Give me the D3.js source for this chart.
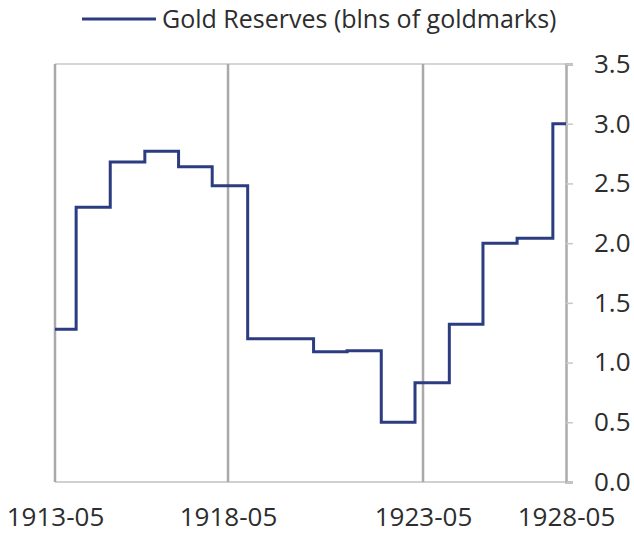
<!DOCTYPE html>
<html>
<head>
<meta charset="utf-8">
<script src="https://cdn.jsdelivr.net/npm/d3@7"></script>
<style>
  html, body { margin: 0; padding: 0; background: #fff; }
  svg { display: block; }
  text { font-family: "Open Sans", "Noto Sans", sans-serif; fill: #2d2d2d; }
</style>
</head>
<body>
<svg id="chart" width="634" height="536"></svg>
<script>
// ---- data ----
const seriesName = "Gold Reserves (blns of goldmarks)";
// dates at which the level changes (step-after), last entry = end of series
const changeDates = ["1913-05-01","1913-12-10","1914-12-05","1915-12-05","1916-11-25","1917-11-15",
                     "1918-11-01","1920-07-10","1921-05-20","1922-04-05","1923-02-15",
                     "1924-04-01","1925-06-05","1926-08-15","1927-11-15","1928-05-01"];
const goldValues  = [1.28, 2.30, 2.68, 2.77, 2.64, 2.48,
                     1.20, 1.09, 1.10, 0.50, 0.83,
                     1.32, 2.00, 2.04, 3.00, 3.00];
const xTickLabels = ["1913-05", "1918-05", "1923-05", "1928-05"];
const yTicks      = [0, 0.5, 1.0, 1.5, 2.0, 2.5, 3.0, 3.5];

// ---- layout ----
const W = 634, H = 536;
const plot = { left: 55, right: 566, top: 64, bottom: 482 };
const tickFrac = [0, 0.3386, 0.7202, 1]; // where the labelled dates sit along the (irregular) category axis

const parse = d3.timeParse("%Y-%m-%d");
const parseTick = d3.timeParse("%Y-%m");
const tickDates = xTickLabels.map(parseTick);
const data = changeDates.map((d, i) => ({ date: parse(d), value: goldValues[i] }));

const svg = d3.select("#chart");

const x = d3.scaleTime()
  .domain(tickDates)
  .range(tickFrac.map(f => plot.left + f * (plot.right - plot.left)));
const y = d3.scaleLinear().domain([0, 3.5]).range([plot.bottom, plot.top]);

// top frame line
svg.append("line")
  .attr("x1", plot.left).attr("x2", plot.right)
  .attr("y1", y(3.5)).attr("y2", y(3.5))
  .attr("stroke", "#d6d6d6").attr("stroke-width", 2);

// bottom axis line
svg.append("line")
  .attr("x1", plot.left).attr("x2", plot.right)
  .attr("y1", y(0)).attr("y2", y(0))
  .attr("stroke", "#d0d0d0").attr("stroke-width", 2);

// vertical gridlines at labelled dates (except the right end, drawn as the axis)
svg.append("g").selectAll("line")
  .data(tickDates.slice(0, 3))
  .join("line")
  .attr("x1", d => x(d)).attr("x2", d => x(d))
  .attr("y1", y(3.5)).attr("y2", y(0))
  .attr("stroke", "#a9a9a9").attr("stroke-width", 2.5);

// right y axis
const yAxis = d3.axisRight(y)
  .tickValues(yTicks)
  .tickFormat(d3.format(".1f"))
  .tickSize(7)
  .tickPadding(21);
const gy = svg.append("g")
  .attr("transform", `translate(${plot.right},0)`)
  .call(yAxis);
gy.select(".domain").attr("stroke", "#ababab").attr("stroke-width", 2.5);
gy.selectAll(".tick line").attr("stroke", "#c8c8c8").attr("stroke-width", 1.5);
gy.selectAll(".tick text")
  .attr("font-size", 26)
  .attr("fill", "#2d2d2d")
  .attr("font-family", "'Open Sans', sans-serif");

// bottom labels
const xAxis = d3.axisBottom(x)
  .tickValues(tickDates)
  .tickFormat(d3.timeFormat("%Y-%m"))
  .tickSize(0)
  .tickPadding(26);
const gx = svg.append("g")
  .attr("transform", `translate(0,${plot.bottom})`)
  .call(xAxis);
gx.select(".domain").remove();
gx.selectAll(".tick text")
  .attr("font-size", 26)
  .attr("fill", "#2d2d2d")
  .attr("font-family", "'Open Sans', sans-serif");

// series line (step)
const line = d3.line()
  .x(d => x(d.date))
  .y(d => y(d.value))
  .curve(d3.curveStepAfter);
svg.append("path")
  .datum(data)
  .attr("d", line)
  .attr("fill", "none")
  .attr("stroke", "#2c3c80")
  .attr("stroke-width", 3)
  .attr("stroke-linejoin", "miter");

// legend
const legend = svg.append("g");
legend.append("line")
  .attr("x1", 82).attr("x2", 156)
  .attr("y1", 19).attr("y2", 19)
  .attr("stroke", "#2c3c80").attr("stroke-width", 3);
legend.append("text")
  .attr("x", 162).attr("y", 19)
  .attr("dy", "0.35em")
  .attr("font-size", 25)
  .text(seriesName);
</script>
</body>
</html>
